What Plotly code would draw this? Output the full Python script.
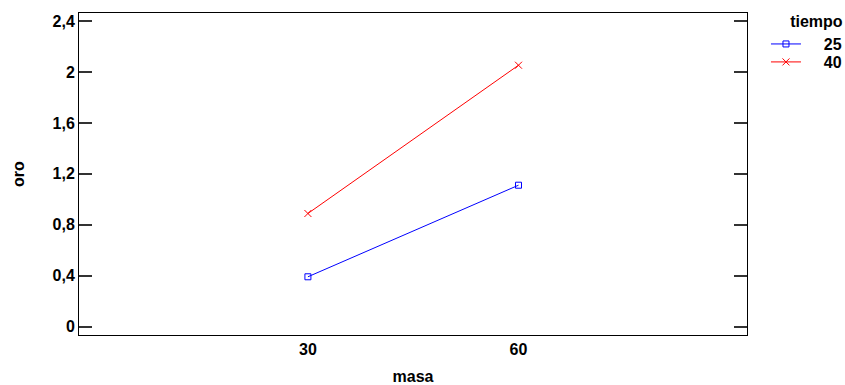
import plotly.graph_objects as go

masa = ["30", "60"]
tiempo_25 = [0.392, 1.111]
tiempo_40 = [0.889, 2.053]
y_ticks = [0, 0.4, 0.8, 1.2, 1.6, 2.0, 2.4]
y_tick_text = ["0", "0,4", "0,8", "1,2", "1,6", "2", "2,4"]

FONT = "Liberation Sans"
FS = 16
NB = "\u00a0"

fig = go.Figure()
fig.add_trace(go.Scatter(
    x=masa, y=tiempo_25, name="<b>" + NB * 4 + "25</b>", mode="lines+markers",
    line=dict(color="#0000ff", width=1),
    marker=dict(symbol="square-open", size=6, color="#0000ff", line=dict(width=1, color="#0000ff")),
    legend="legend",
))
fig.add_trace(go.Scatter(
    x=masa, y=tiempo_40, name="<b>" + NB * 4 + "40</b>", mode="lines+markers",
    line=dict(color="#ff0000", width=1),
    marker=dict(symbol="x-thin-open", size=7, color="#ff0000", line=dict(width=1, color="#ff0000")),
    legend="legend2",
))

fig.update_layout(
    width=845, height=385,
    margin=dict(l=79, r=98, t=13, b=50, autoexpand=False),
    plot_bgcolor="white", paper_bgcolor="white",
    font=dict(family=FONT, size=FS, color="black"),
    showlegend=True,
    legend=dict(
        title=dict(text="<b>" + NB * 5 + "tiempo</b>", side="top", font=dict(family=FONT, size=FS)),
        x=1.0284, xanchor="left", y=1.021, yanchor="top",
        font=dict(family=FONT, size=FS),
        bgcolor="rgba(0,0,0,0)",
    ),
    legend2=dict(
        x=1.0284, xanchor="left", y=0.9006, yanchor="top",
        font=dict(family=FONT, size=FS),
        bgcolor="rgba(0,0,0,0)",
    ),
    xaxis=dict(
        type="category", range=[-1.087, 2.085], automargin=False,
        showline=True, linecolor="black", linewidth=1, mirror=True,
        ticks="", showgrid=False, zeroline=False,
        tickfont=dict(family=FONT, size=FS),
        tickvals=masa, ticktext=["<b>30</b>", "<b>60</b>"],
        title=dict(text="<b>masa</b>", font=dict(family=FONT, size=FS), standoff=14),
    ),
    yaxis=dict(
        range=[-0.065, 2.463], automargin=False,
        showline=True, linecolor="black", linewidth=1, mirror="ticks",
        ticks="inside", ticklen=13, tickcolor="#333333", tickwidth=2,
        showgrid=False, zeroline=False,
        tickvals=y_ticks, ticktext=["<b>%s</b>" % t for t in y_tick_text],
        tickfont=dict(family=FONT, size=FS),
        title=dict(text="<b>oro</b>", font=dict(family=FONT, size=FS), standoff=23),
    ),
)

fig.write_html("out.html")
